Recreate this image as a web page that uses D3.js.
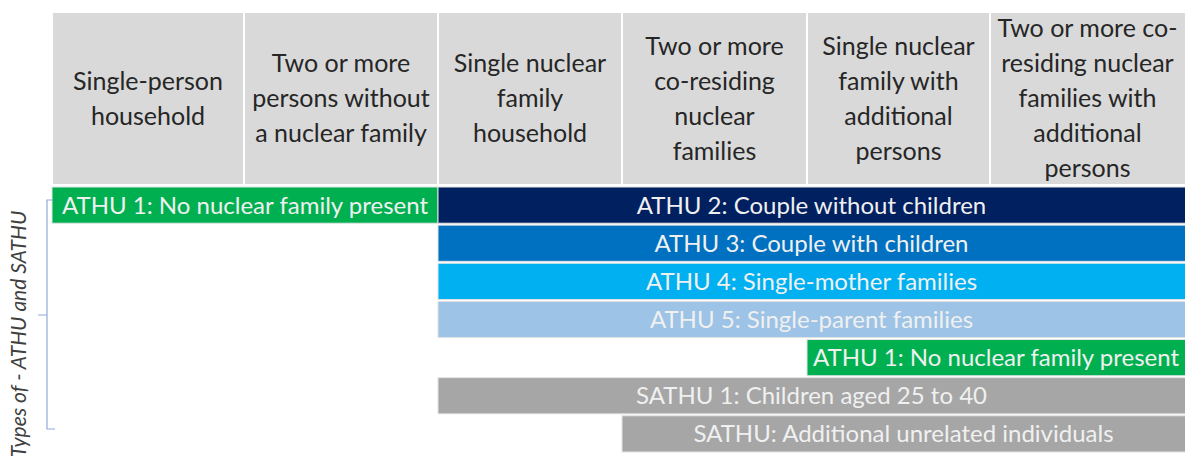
<!DOCTYPE html>
<html><head><meta charset="utf-8">
<script src="https://cdn.jsdelivr.net/npm/d3@7"></script>
<style>body{margin:0;background:#fff;overflow:hidden}svg{display:block}</style>
</head><body>
<script>
// ---- data ----
const categories = [
  ["Single-person","household"],
  ["Two or more","persons without","a nuclear family"],
  ["Single nuclear","family","household"],
  ["Two or more","co-residing","nuclear","families"],
  ["Single nuclear","family with","additional","persons"],
  ["Two or more co-","residing nuclear","families with","additional","persons"]
];
const barLabels = [
  "ATHU 1: No nuclear family present",
  "ATHU 2: Couple without children",
  "ATHU 3: Couple with children",
  "ATHU 4: Single-mother families",
  "ATHU 5: Single-parent families",
  "ATHU 1: No nuclear family present",
  "SATHU 1: Children aged 25 to 40",
  "SATHU: Additional unrelated individuals"
];
const barRows  = [0,0,1,2,3,4,5,6];
const barStart = [0,2,2,2,2,4,2,3];   // first column covered
const barEnd   = [2,6,6,6,6,6,6,6];   // column boundary where bar ends
const barGroup = ["athu1","athu2","athu3","athu4","athu5","athu1","sathu","sathu"];
const axisTitle = "Types of - ATHU and SATHU";

// ---- layout ----
const W = 1185, H = 461;
const svg = d3.select("body").append("svg").attr("width", W).attr("height", H);
const font = "Lato, 'Open Sans', sans-serif";

const x = d3.scaleLinear().domain([0,1,2,3,4,5,6]).range([52,244,438,622,807,990,1186]);
const y = d3.scaleBand().domain(d3.range(7)).range([187, 452]).paddingInner(0.05).paddingOuter(0);
const color = d3.scaleOrdinal()
  .domain(["athu1","athu2","athu3","athu4","athu5","sathu"])
  .range(["#00b050","#002060","#0070c0","#00b0f0","#9dc3e6","#a6a6a6"]);

const headTop = 12, headBot = 185, lineH = 35;

// header cells
const head = svg.append("g");
head.selectAll("rect").data(categories).join("rect")
  .attr("x", (d,i) => x(i)).attr("y", headTop)
  .attr("width", (d,i) => x(i+1) - x(i)).attr("height", headBot - headTop)
  .attr("fill", "#d9d9d9").attr("stroke", "#ffffff").attr("stroke-width", 2);

head.selectAll("text").data(categories).join("text")
  .attr("text-anchor", "middle")
  .attr("font-family", font).attr("font-size", 25).attr("fill", "#262626")
  .each(function(lines, i) {
    const cx = (x(i) + Math.min(x(i+1), W)) / 2;
    const cy = (headTop + headBot) / 2;
    const t0 = cy - (lines.length - 1) * lineH / 2;
    d3.select(this).selectAll("tspan").data(lines).join("tspan")
      .attr("x", cx).attr("y", (d,k) => t0 + k * lineH).attr("dy", "0.35em")
      .text(d => d);
  });

// bars
const bars = svg.append("g");
const idx = d3.range(barLabels.length);
bars.selectAll("rect").data(idx).join("rect")
  .attr("x", i => x(barStart[i])).attr("y", i => y(barRows[i]))
  .attr("width", i => x(barEnd[i]) - x(barStart[i])).attr("height", y.bandwidth())
  .attr("fill", i => color(barGroup[i]))
  .attr("stroke", "#e4e4e4").attr("stroke-width", 1);
bars.selectAll("text").data(idx).join("text")
  .attr("x", i => (x(barStart[i]) + Math.min(x(barEnd[i]), W)) / 2)
  .attr("y", i => y(barRows[i]) + y.bandwidth() / 2)
  .attr("dy", "0.35em").attr("text-anchor", "middle")
  .attr("font-family", font).attr("font-size", 24).attr("fill", "#f0f0f0")
  .text(i => barLabels[i]);

// bracket
const bTop = 200, bBot = 429, bMid = 315, bx = 47;
svg.append("path")
  .attr("d", `M${bx+6},${bTop} H${bx} V${bBot} H${bx+8} M${bx},${bMid} H${bx-9}`)
  .attr("fill", "none").attr("stroke", "#8faadc").attr("stroke-width", 1.2);

// axis title
svg.append("text")
  .attr("transform", `translate(26,${334}) rotate(-90)`)
  .attr("text-anchor", "middle")
  .attr("font-family", font).attr("font-style", "italic").attr("font-size", 21)
  .attr("fill", "#404040")
  .text(axisTitle);
</script>
</body></html>
